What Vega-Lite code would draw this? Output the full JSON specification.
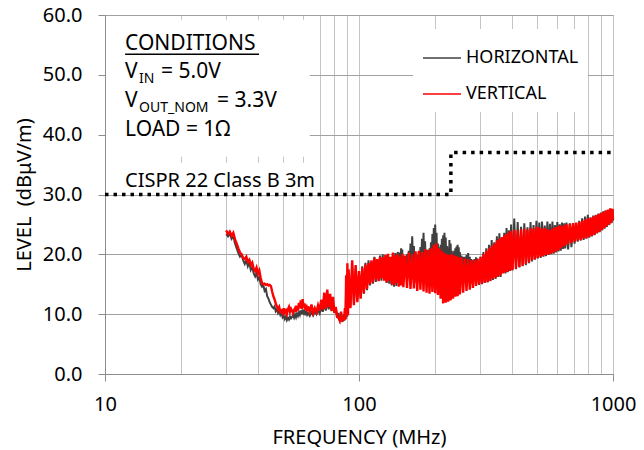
{
  "$schema": "https://vega.github.io/schema/vega-lite/v6.json",
  "width": 508,
  "height": 359,
  "autosize": "none",
  "padding": {"left": 105, "top": 15, "right": 31, "bottom": 76},
  "background": "white",
  "config": {
    "font": "Noto Sans",
    "view": {"stroke": "#a0a0a0", "strokeWidth": 1},
    "axis": {"labelColor": "black", "titleColor": "black", "titleFontWeight": "normal", "domainColor": "#8c8c8c", "tickColor": "#8c8c8c", "labelFontSize": 20, "titleFontSize": 20, "gridOpacity": 1}
  },
  "datasets": {
    "emi": [
      {"f":30,"H":23.4,"V":24.0},{"f":30.5,"H":23.0,"V":23.4},{"f":31,"H":23.5,"V":23.8},{"f":31.5,"H":22.6,"V":23.1},{"f":32,"H":23.0,"V":23.6},{"f":32.5,"H":21.8,"V":22.5},{"f":33,"H":21.0,"V":21.8},{"f":33.5,"H":20.2,"V":21.0},{"f":34,"H":19.6,"V":20.3},{"f":34.5,"H":19.9,"V":20.0},{"f":35,"H":19.0,"V":19.4},{"f":35.5,"H":18.4,"V":19.2},{"f":36,"H":19.0,"V":19.6},{"f":36.5,"H":18.0,"V":18.8},{"f":37,"H":18.6,"V":19.1},{"f":37.5,"H":17.4,"V":18.2},{"f":38,"H":17.9,"V":18.6},{"f":38.5,"H":16.8,"V":17.6},{"f":39,"H":16.3,"V":17.2},{"f":39.5,"H":16.9,"V":17.8},{"f":40,"H":15.8,"V":16.8},{"f":40.5,"H":16.2,"V":17.3},{"f":41,"H":15.0,"V":16.1},{"f":41.5,"H":14.6,"V":15.2},{"f":42,"H":14.9,"V":15.0},{"f":42.5,"H":13.9,"V":15.1},{"f":43,"H":14.2,"V":14.9},{"f":43.5,"H":13.0,"V":15.0},{"f":44,"H":12.6,"V":14.8},{"f":44.5,"H":12.0,"V":14.9},{"f":45,"H":11.6,"V":14.7},{"f":45.5,"H":11.2,"V":13.8},{"f":46,"H":11.0,"V":13.0},{"f":46.5,"H":11.3,"V":12.5},{"f":47,"H":10.5,"V":11.8},{"f":47.5,"H":10.8,"V":11.3},{"f":48,"H":10.2,"V":10.8},{"f":48.5,"H":10.6,"V":11.2},{"f":49,"H":9.9,"V":10.4},{"f":49.5,"H":10.3,"V":10.6},{"f":50,"H":9.5,"V":10.2},{"f":50.5,"H":9.8,"V":11.0},{"f":51,"H":9.2,"V":10.3},{"f":51.5,"H":9.6,"V":10.6},{"f":52,"H":9.0,"V":10.0},{"f":52.5,"H":9.4,"V":10.8},{"f":53,"H":9.1,"V":11.2},{"f":53.5,"H":9.6,"V":10.4},{"f":54,"H":9.3,"V":10.9},{"f":55,"H":9.8,"V":10.2},{"f":55.5,"H":9.4,"V":10.7},{"f":56,"H":10.0,"V":11.0},{"f":56.5,"H":9.5,"V":10.4},{"f":57,"H":10.1,"V":11.4},{"f":57.5,"H":9.7,"V":10.6},{"f":58,"H":10.3,"V":11.9},{"f":58.5,"H":9.9,"V":11.0},{"f":59,"H":10.6,"V":12.3},{"f":59.5,"H":10.0,"V":10.9},{"f":60,"H":10.8,"V":12.5},{"f":60.5,"H":10.2,"V":11.1},{"f":61,"H":10.5,"V":11.8},{"f":61.5,"H":9.8,"V":10.7},{"f":62,"H":10.4,"V":11.6},{"f":62.5,"H":9.9,"V":10.5},{"f":63,"H":10.2,"V":11.3},{"f":64,"H":9.7,"V":10.4},{"f":65,"H":10.3,"V":11.6},{"f":66,"H":9.8,"V":10.2},{"f":67,"H":10.5,"V":11.0},{"f":68,"H":10.0,"V":10.3},{"f":69,"H":10.6,"V":11.5},{"f":70,"H":10.1,"V":10.6},{"f":71,"H":11.2,"V":12.4},{"f":72,"H":10.4,"V":10.8},{"f":73,"H":11.8,"V":13.6},{"f":74,"H":10.6,"V":10.9},{"f":75,"H":12.2,"V":14.1},{"f":76,"H":10.8,"V":11.2},{"f":77,"H":12.4,"V":13.4},{"f":78,"H":10.5,"V":10.6},{"f":79,"H":12.2,"V":12.9},{"f":80,"H":10.3,"V":10.2},{"f":81,"H":11.0,"V":11.2},{"f":82,"H":9.4,"V":9.6},{"f":83,"H":10.2,"V":9.4},{"f":84,"H":9.0,"V":8.9},{"f":85,"H":9.6,"V":10.4},{"f":86,"H":8.7,"V":8.8},{"f":87,"H":9.9,"V":9.5},{"f":87.5,"H":8.9,"V":9.0},{"f":88,"H":10.5,"V":11.0},{"f":88.5,"H":9.2,"V":9.1},{"f":89,"H":14.5,"V":16.5},{"f":89.5,"H":9.5,"V":10.0},{"f":90,"H":16.8,"V":18.5},{"f":90.5,"H":10.5,"V":9.8},
      {"f":91,"V":17.5,"H":16.8},{"f":92.5,"V":11.0,"H":11.2},{"f":94,"V":19.0,"H":18.0},{"f":95.5,"V":11.5,"H":11.8},{"f":97,"V":18.2,"H":17.5},{"f":98.5,"V":12.0,"H":12.4},{"f":100,"V":17.2,"H":17.0},{"f":101.5,"V":12.6,"H":12.8},{"f":103,"V":17.8,"H":18.0},{"f":104.5,"V":13.5,"H":13.4},{"f":106,"V":18.3,"H":18.6},{"f":107.5,"V":14.2,"H":14.0},{"f":109,"V":18.6,"H":19.0},{"f":110.5,"V":15.0,"H":14.8},{"f":112,"V":19.0,"H":18.8},{"f":113.5,"V":15.3,"H":15.1},{"f":115,"V":19.4,"H":19.6},{"f":116.5,"V":15.8,"H":15.4},{"f":118,"V":19.2,"H":19.0},{"f":119.5,"V":15.5,"H":15.6},{"f":121,"V":19.6,"H":19.8},{"f":122.5,"V":16.0,"H":15.6},{"f":124,"V":19.5,"H":20.0},{"f":125.5,"V":15.6,"H":15.8},{"f":127,"V":19.9,"H":19.6},{"f":128.5,"V":15.3,"H":15.2},{"f":130,"V":20.1,"H":19.7},{"f":131.5,"V":15.6,"H":15.1},{"f":133,"V":19.6,"H":19.4},{"f":134.5,"V":15.0,"H":14.8},{"f":136,"V":20.3,"H":19.9},{"f":137.5,"V":14.9,"H":14.6},{"f":139,"V":19.8,"H":20.2},{"f":140.5,"V":15.2,"H":14.7},{"f":142,"V":20.0,"H":20.4},
      {"f":143.5,"V":14.6,"H":19.6},{"f":144.25,"H":17.8},{"f":145,"V":19.6,"H":20.3},{"f":145.75,"H":18.2},{"f":146.5,"V":14.8,"H":21.0},{"f":147.25,"H":18.6},{"f":148,"V":20.1,"H":20.8},{"f":148.75,"H":17.6},{"f":149.5,"V":14.5,"H":19.8},{"f":150.75,"H":16.4},
      {"f":152,"V":19.8,"H":19.6},{"f":153.25,"H":17.0},{"f":154.5,"V":14.4,"H":20.0},{"f":155.75,"H":17.4},{"f":157,"V":20.3,"H":20.6},{"f":158.25,"H":18.0},{"f":159.5,"V":14.2,"H":21.8},{"f":160.75,"H":18.8},{"f":162,"V":20.0,"H":23.0},{"f":163.25,"H":18.6},{"f":164.5,"V":14.3,"H":21.4},{"f":165.75,"H":17.6},{"f":167,"V":20.5,"H":20.2},{"f":168.25,"H":15.2},{"f":169.5,"V":13.9,"H":19.9},{"f":170.75,"H":16.8},{"f":172,"V":20.6,"H":20.4},{"f":173.25,"H":17.5},{"f":174.5,"V":14.1,"H":21.2},{"f":175.75,"H":18.2},{"f":177,"V":20.4,"H":22.6},{"f":178.25,"H":18.9},{"f":179.5,"V":13.8,"H":23.6},{"f":180.75,"H":18.7},{"f":182,"V":20.9,"H":22.2},{"f":183.25,"H":17.8},{"f":184.5,"V":13.6,"H":20.8},{"f":185.75,"H":14.6},{"f":187,"V":20.7,"H":20.4},{"f":188.25,"H":17.2},{"f":189.5,"V":13.4,"H":21.0},{"f":190.75,"H":17.9},{"f":192,"V":21.0,"H":22.0},{"f":193.25,"H":18.5},{"f":194.5,"V":13.7,"H":23.4},{"f":195.75,"H":19.0},{"f":197,"V":21.6,"H":24.4},{"f":198.25,"H":19.4},{"f":199.5,"V":13.5,"H":25.0},{"f":200.75,"H":19.2},{"f":202,"V":21.8,"H":23.6},{"f":203.25,"H":18.4},{"f":204.5,"V":13.2,"H":21.8},{"f":205.75,"H":15.0},{"f":207,"V":21.0,"H":21.2},{"f":208.25,"H":17.0},{"f":209.5,"V":12.6,"H":21.6},{"f":210.75,"H":17.8},{"f":212,"V":20.6,"H":22.6},{"f":213.25,"H":18.6},{"f":214.5,"V":11.8,"H":23.2},{"f":215.75,"H":19.0},{"f":217,"V":20.2,"H":23.6},{"f":218.25,"H":18.8},{"f":219.5,"V":11.9,"H":22.8},{"f":220.75,"H":18.2},{"f":222,"V":20.0,"H":21.4},{"f":223.25,"H":17.4},{"f":224.5,"V":12.1,"H":21.2},{"f":225.75,"H":18.0},{"f":227,"V":19.9,"H":22.4},{"f":228.25,"H":18.4},{"f":229.5,"V":12.3,"H":21.8},{"f":230.75,"H":17.6},{"f":232,"V":20.1,"H":20.6},{"f":233.25,"H":14.2},{"f":234.5,"V":12.6,"H":20.3},{"f":235.75,"H":17.0},{"f":237,"V":19.8,"H":20.6},{"f":238.25,"H":17.4},{"f":239.5,"V":12.9,"H":21.0},{"f":240.75,"H":17.8},{"f":242,"V":19.7,"H":21.3},{"f":243.25,"H":18.2},{"f":244.5,"V":13.0,"H":21.6},{"f":245.75,"H":18.0},{"f":247,"V":19.5,"H":21.2},{"f":248.25,"H":17.2},{"f":249.5,"V":13.3,"H":20.4},{"f":251.25,"H":15.6},
      {"f":253,"V":19.5,"H":19.8},{"f":255,"H":16.8},{"f":257,"V":13.6,"H":19.6},{"f":259,"H":16.6},{"f":261,"V":19.3,"H":19.6},{"f":263,"H":17.0},{"f":265,"V":13.9,"H":19.9},{"f":267,"H":17.4},{"f":269,"V":19.2,"H":20.2},{"f":271,"H":17.2},{"f":273,"V":14.1,"H":19.6},{"f":275,"H":15.0},{"f":277,"V":19.0,"H":19.2},{"f":279,"H":16.4},{"f":281,"V":14.4,"H":19.0},{"f":283,"H":16.6},{"f":285,"V":19.1,"H":19.2},{"f":287,"H":16.9},{"f":289,"V":14.7,"H":19.5},{"f":291,"H":17.0},{"f":293,"V":19.2,"H":19.3},{"f":295,"H":16.2},{"f":297,"V":15.0,"H":14.9},
      {"f":301,"V":19.6,"H":19.6},{"f":305,"V":15.1,"H":15.0},{"f":309,"V":20.0,"H":20.4},{"f":313,"V":15.3,"H":15.2},{"f":317,"V":20.6,"H":21.0},{"f":321,"V":15.4,"H":15.3},{"f":325,"V":21.0,"H":21.6},{"f":329,"V":15.6,"H":15.5},{"f":333,"V":21.4,"H":22.4},{"f":337,"V":15.9,"H":15.7},{"f":341,"V":21.8,"H":22.0},{"f":345,"V":16.1,"H":15.9},{"f":349,"V":22.3,"H":23.0},{"f":353,"V":16.3,"H":16.2},{"f":357,"V":22.6,"H":23.5},{"f":361,"V":16.5,"H":16.2},{"f":365,"V":22.9,"H":22.8},{"f":369,"V":16.8,"H":16.9},{"f":373,"V":23.2,"H":23.6},{"f":377,"V":17.0,"H":16.8},{"f":381,"V":23.4,"H":24.4},{"f":385,"V":17.1,"H":17.0},{"f":389,"V":23.7,"H":24.0},{"f":393,"V":17.3,"H":17.2},{"f":397,"V":23.9,"H":25.0},
      {"f":402,"V":17.4,"H":17.3},{"f":408.5,"V":24.1,"H":26.0},{"f":415,"V":17.6,"H":17.5},{"f":421.5,"V":24.0,"H":25.4},{"f":428,"V":17.9,"H":17.8},{"f":434.5,"V":24.2,"H":24.6},{"f":441,"V":18.1,"H":18.0},{"f":447.5,"V":24.3,"H":25.2},{"f":454,"V":18.4,"H":18.2},{"f":460.5,"V":24.1,"H":24.5},{"f":467,"V":18.7,"H":18.5},{"f":473.5,"V":24.4,"H":25.4},{"f":480,"V":19.0,"H":18.8},{"f":486.5,"V":24.3,"H":24.9},{"f":493,"V":19.2,"H":19.1},{"f":499.5,"V":24.6,"H":25.6},{"f":506,"V":19.4,"H":19.3},{"f":512.5,"V":24.5,"H":25.3},{"f":519,"V":19.6,"H":19.4},{"f":525.5,"V":24.3,"H":25.5},{"f":532,"V":19.7,"H":19.6},{"f":538.5,"V":24.4,"H":24.8},{"f":545,"V":19.9,"H":19.7},{"f":551.5,"V":24.2,"H":25.5},{"f":558,"V":20.0,"H":19.9},{"f":564.5,"V":24.1,"H":25.1},{"f":571,"V":20.1,"H":20.0},{"f":577.5,"V":24.3,"H":25.5},{"f":584,"V":20.3,"H":20.1},{"f":590.5,"V":24.5,"H":24.9},{"f":597,"V":20.5,"H":20.3},{"f":603.5,"V":24.6,"H":25.4},{"f":610,"V":20.7,"H":20.5},{"f":616.5,"V":24.8,"H":25.0},{"f":623,"V":21.0,"H":20.6},{"f":629.5,"V":24.7,"H":25.3},{"f":636,"V":21.3,"H":20.9},{"f":642.5,"V":24.9,"H":25.2},{"f":649,"V":21.5,"H":21.0},
      {"f":656,"V":25.0,"H":25.3},{"f":666,"V":21.7,"H":20.8},{"f":676,"V":25.1,"H":25.2},{"f":686,"V":21.9,"H":21.2},{"f":696,"V":25.2,"H":24.9},{"f":706,"V":22.1,"H":21.8},{"f":716,"V":25.3,"H":24.8},{"f":726,"V":22.3,"H":22.1},{"f":736,"V":25.4,"H":25.6},{"f":746,"V":22.4,"H":22.3},{"f":756,"V":25.6,"H":26.0},{"f":766,"V":22.6,"H":22.4},{"f":776,"V":25.8,"H":26.3},{"f":786,"V":22.7,"H":22.6},{"f":796,"V":26.0,"H":26.6},{"f":806,"V":22.9,"H":22.8},{"f":816,"V":26.1,"H":26.2},{"f":826,"V":23.1,"H":23.0},{"f":836,"V":26.3,"H":26.5},{"f":846,"V":23.3,"H":23.2},{"f":856,"V":26.5,"H":26.6},{"f":866,"V":23.6,"H":23.5},{"f":876,"V":26.7,"H":26.8},{"f":886,"V":23.8,"H":23.7},{"f":896,"V":26.9,"H":27.0},{"f":906,"V":24.1,"H":24.0},{"f":916,"V":27.1,"H":27.2},{"f":926,"V":24.4,"H":24.3},{"f":936,"V":27.3,"H":27.3},{"f":946,"V":24.7,"H":24.6},{"f":956,"V":27.5,"H":27.4},{"f":966,"V":25.0,"H":24.9},{"f":976,"V":27.7,"H":27.6},{"f":986,"V":25.3,"H":25.2},{"f":996,"V":27.6,"H":27.5},{"f":1000,"V":25.8,"H":25.6}
    ],
    "limit": [
      {"f": 10, "v": 30}, {"f": 230, "v": 30}, {"f": 230, "v": 37}, {"f": 1000, "v": 37}
    ]
  },
  "layer": [
    {
      "data": {"values": [{}]},
      "mark": {"type": "rect", "color": "white"},
      "encoding": {
        "x": {"datum": 10.1, "type": "quantitative", "scale": {"type": "log", "domain": [10, 1000]},
          "axis": {"values": [10,20,30,40,50,60,70,80,90,100,200,300,400,500,600,700,800,900,1000], "format": "d",
            "labelExpr": "(datum.value==10||datum.value==100||datum.value==1000)?datum.label:''",
            "labelOverlap": false, "labelFlush": false,
            "tickOpacity": {"condition": {"test": "datum.value==10||datum.value==100||datum.value==1000", "value": 1}, "value": 0},
            "tickSize": 7, "grid": true, "gridColor": "#c4c4c4", "gridWidth": 1,
            "labelPadding": 13, "title": "FREQUENCY (MHz)", "titlePadding": 13}},
        "x2": {"datum": 64},
        "y": {"datum": 59.2, "type": "quantitative", "scale": {"domain": [0, 60]},
          "axis": {"values": [0,10,20,30,40,50,60], "format": ".1f", "tickSize": 7, "labelPadding": 16,
            "grid": true, "gridColor": "#a0a0a0", "gridWidth": 1,
            "title": "LEVEL\u00a0 (dBμV/m)", "titlePadding": 8}},
        "y2": {"datum": 36.3}
      }
    },
    {
      "data": {"values": [{}]},
      "mark": {"type": "rect", "color": "white"},
      "encoding": {
        "x": {"datum": 10.1, "type": "quantitative"},
        "x2": {"datum": 69.6},
        "y": {"datum": 35.3, "type": "quantitative"},
        "y2": {"datum": 30.4}
      }
    },
    {
      "data": {"name": "limit"},
      "mark": {"type": "line", "color": "black", "strokeWidth": 3.5, "strokeDash": [3.5, 5], "strokeCap": "butt"},
      "encoding": {
        "x": {"field": "f", "type": "quantitative"},
        "y": {"field": "v", "type": "quantitative"},
        "order": {"value": 0}
      }
    },
    {
      "data": {"name": "emi"},
      "transform": [{"fold": ["H", "V"], "as": ["s", "v"]}, {"filter": "datum.s == 'H' && isValid(datum.v)"}],
      "mark": {"type": "line", "strokeWidth": 2},
      "encoding": {
        "x": {"field": "f", "type": "quantitative"},
        "y": {"field": "v", "type": "quantitative"},
        "color": {"field": "s", "type": "nominal",
          "scale": {"domain": ["H", "V"], "range": ["#404040", "#ff0000"]},
          "legend": {"orient": "none", "legendX": 308, "legendY": 14, "title": null, "fillColor": "white", "padding": 9,
            "symbolType": "stroke", "symbolSize": 1444, "symbolStrokeWidth": 1.5, "labelFontSize": 18, "labelColor": "black",
            "labelOffset": 4, "rowPadding": 7,
            "labelExpr": "datum.label == 'H' ? 'HORIZONTAL' : 'VERTICAL'"}}
      }
    },
    {
      "data": {"name": "emi"},
      "transform": [{"fold": ["H", "V"], "as": ["s", "v"]}, {"filter": "datum.s == 'V' && isValid(datum.v)"}],
      "mark": {"type": "line", "strokeWidth": 2.4},
      "encoding": {
        "x": {"field": "f", "type": "quantitative"},
        "y": {"field": "v", "type": "quantitative"},
        "color": {"field": "s", "type": "nominal",
          "scale": {"domain": ["H", "V"], "range": ["#404040", "#ff0000"]},
          "legend": {"orient": "none", "legendX": 308, "legendY": 14, "title": null, "fillColor": "white", "padding": 9,
            "symbolType": "stroke", "symbolSize": 1444, "symbolStrokeWidth": 1.5, "labelFontSize": 18, "labelColor": "black",
            "labelOffset": 4, "rowPadding": 7,
            "labelExpr": "datum.label == 'H' ? 'HORIZONTAL' : 'VERTICAL'"}}
      }
    },
    {
      "data": {"values": [{}]},
      "mark": {"type": "text", "text": "CONDITIONS", "align": "left", "baseline": "alphabetic", "fontSize": 21, "color": "black"},
      "encoding": {"x": {"datum": 12, "type": "quantitative"}, "y": {"datum": 54.15, "type": "quantitative"}}
    },
    {
      "data": {"values": [{}]},
      "mark": {"type": "rule", "color": "black", "strokeWidth": 1.5},
      "encoding": {"x": {"datum": 12, "type": "quantitative"}, "x2": {"datum": 40.4}, "y": {"datum": 53.45, "type": "quantitative"}}
    },
    {
      "data": {"values": [{}]},
      "mark": {"type": "text", "text": "V", "align": "left", "baseline": "alphabetic", "fontSize": 21, "color": "black"},
      "encoding": {"x": {"datum": 12, "type": "quantitative"}, "y": {"datum": 49.39, "type": "quantitative"}}
    },
    {
      "data": {"values": [{}]},
      "mark": {"type": "text", "text": "IN", "align": "left", "baseline": "alphabetic", "fontSize": 14, "dx": 14, "dy": 5, "color": "black"},
      "encoding": {"x": {"datum": 12, "type": "quantitative"}, "y": {"datum": 49.39, "type": "quantitative"}}
    },
    {
      "data": {"values": [{}]},
      "mark": {"type": "text", "text": "= 5.0V", "align": "left", "baseline": "alphabetic", "fontSize": 21, "dx": 36, "color": "black"},
      "encoding": {"x": {"datum": 12, "type": "quantitative"}, "y": {"datum": 49.39, "type": "quantitative"}}
    },
    {
      "data": {"values": [{}]},
      "mark": {"type": "text", "text": "V", "align": "left", "baseline": "alphabetic", "fontSize": 21, "color": "black"},
      "encoding": {"x": {"datum": 12, "type": "quantitative"}, "y": {"datum": 44.63, "type": "quantitative"}}
    },
    {
      "data": {"values": [{}]},
      "mark": {"type": "text", "text": "OUT_NOM", "align": "left", "baseline": "alphabetic", "fontSize": 14, "dx": 14, "dy": 5, "color": "black"},
      "encoding": {"x": {"datum": 12, "type": "quantitative"}, "y": {"datum": 44.63, "type": "quantitative"}}
    },
    {
      "data": {"values": [{}]},
      "mark": {"type": "text", "text": "= 3.3V", "align": "left", "baseline": "alphabetic", "fontSize": 21, "dx": 92, "color": "black"},
      "encoding": {"x": {"datum": 12, "type": "quantitative"}, "y": {"datum": 44.63, "type": "quantitative"}}
    },
    {
      "data": {"values": [{}]},
      "mark": {"type": "text", "text": "LOAD = 1Ω", "align": "left", "baseline": "alphabetic", "fontSize": 21, "color": "black"},
      "encoding": {"x": {"datum": 12, "type": "quantitative"}, "y": {"datum": 39.70, "type": "quantitative"}}
    },
    {
      "data": {"values": [{}]},
      "mark": {"type": "text", "text": "CISPR 22 Class B 3m", "align": "left", "baseline": "alphabetic", "fontSize": 20, "color": "black"},
      "encoding": {"x": {"datum": 12, "type": "quantitative"}, "y": {"datum": 31.26, "type": "quantitative"}}
    }
  ]
}
